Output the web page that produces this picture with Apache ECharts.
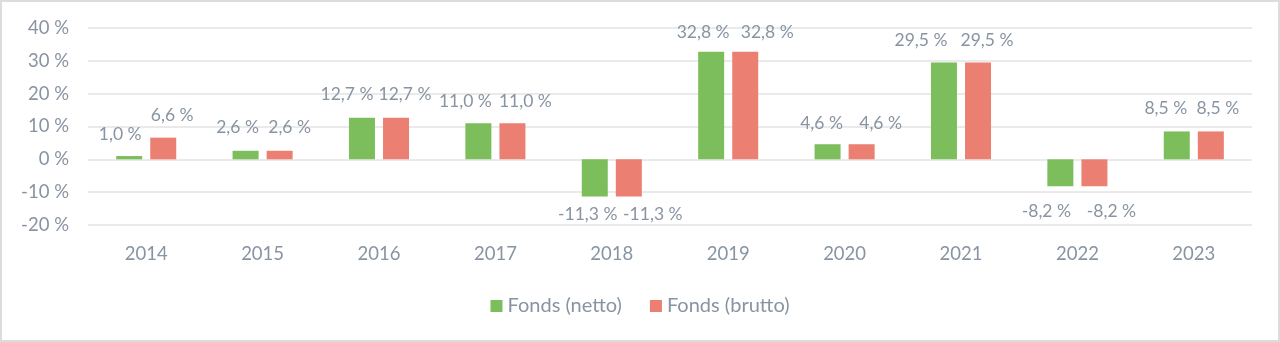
<!DOCTYPE html>
<html><head><meta charset="utf-8">
<script src="https://cdn.jsdelivr.net/npm/echarts@6/dist/echarts.min.js"></script>
<style>
html,body{margin:0;padding:0;background:#fff;}
#c{width:1280px;height:342px;box-sizing:border-box;border:2px solid #dcdcdc;}
</style></head><body>
<div id="c"></div>
<script>
const categories = ['2014','2015','2016','2017','2018','2019','2020','2021','2022','2023'];
const netto = [1.0, 2.6, 12.7, 11.0, -11.3, 32.8, 4.6, 29.5, -8.2, 8.5];
const brutto = [6.6, 2.6, 12.7, 11.0, -11.3, 32.8, 4.6, 29.5, -8.2, 8.5];
const seriesNames = ['Fonds (netto)', 'Fonds (brutto)'];

// label placement nudges (style only, not data)
const nudgeNetto = [-9, -8, -15, -13, -7, -8, -6, -23, -14, -11];
const nudgeBrutto = [9, 10, 9, 13, 24, 22, 19, 9, 17, 7];
const labelGap = [13, 14, 14, 13, 9, 10, 12, 13, 16, 14];

const txt = '#8894a2';
const font = 'Lato, "Open Sans", sans-serif';
function fmt(v){ return v.toFixed(1).replace('.', ',') + ' %'; }
function items(arr, nudge){
  return arr.map((v, i) => ({value: v, label: {
    position: v < 0 ? 'bottom' : 'top', offset: [nudge[i], 0], distance: labelGap[i]}}));
}
const chart = echarts.init(document.getElementById('c'));
const lbl = {show: true, color: txt, fontSize: 17.5, fontFamily: font, formatter: p => fmt(p.value)};
chart.setOption({
  animation: false,
  grid: {left: 86, right: 26, top: 26, bottom: 115},
  legend: {
    top: 289, left: 'center', itemWidth: 12, itemHeight: 12, itemGap: 28,
    icon: 'rect',
    textStyle: {color: txt, fontSize: 20, fontFamily: font},
    data: seriesNames
  },
  xAxis: {
    type: 'category', data: categories,
    axisLine: {show: false}, axisTick: {show: false},
    axisLabel: {color: txt, fontSize: 18.5, fontFamily: font, margin: 20}
  },
  yAxis: {
    type: 'value', min: -20, max: 40, interval: 10,
    axisLabel: {color: txt, fontSize: 18.5, fontFamily: font, formatter: '{value} %', margin: 19},
    splitLine: {lineStyle: {color: '#e3e3e3', width: 1.5}},
    axisLine: {show: false}, axisTick: {show: false}
  },
  series: [
    {name: seriesNames[0], type: 'bar', data: items(netto, nudgeNetto), barWidth: 26, barGap: '31%',
     itemStyle: {color: '#7cbe5b'}, label: lbl},
    {name: seriesNames[1], type: 'bar', data: items(brutto, nudgeBrutto), barWidth: 26, barGap: '31%',
     itemStyle: {color: '#ea7f72'}, label: lbl}
  ]
});
</script>
</body></html>
